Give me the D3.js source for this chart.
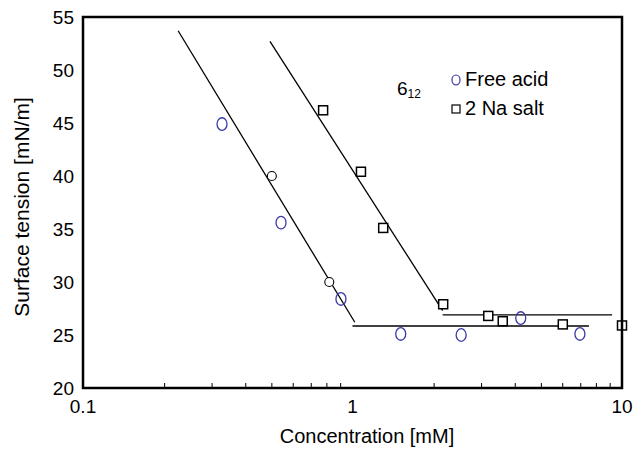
<!DOCTYPE html>
<html>
<head>
<meta charset="utf-8">
<script src="https://cdn.jsdelivr.net/npm/d3@7"></script>
<style>
  body { margin: 0; background: #fff; }
  text { font-family: "Liberation Sans", Arial, sans-serif; fill: #000; }
</style>
</head>
<body>
<svg id="chart" width="636" height="450"></svg>
<script>
// data (concentration in mM, surface tension in mN/m)
var acidConc = [0.328, 0.543, 0.906, 1.51, 2.53, 4.21, 6.98];
var acidST   = [44.9, 35.6, 28.4, 25.1, 25.0, 26.6, 25.1];
var openConc = [0.502, 0.82];
var openST   = [40.0, 30.0];
var saltConc = [0.778, 1.075, 1.30, 2.17, 3.19, 3.61, 6.03, 10];
var saltST   = [46.2, 40.4, 35.1, 27.9, 26.8, 26.3, 26.0, 25.9];
// fitted lines [c1, st1, c2, st2]
var fitLines = [
  [0.2254, 53.7, 1.02, 26.2],
  [1.0, 25.85, 7.54, 25.85],
  [0.494, 52.7, 2.16, 27.3],
  [2.16, 26.9, 9.19, 26.9]
];
var yTicks = [20, 25, 30, 35, 40, 45, 50, 55];
var xTicks = [0.1, 1, 10];

var margin = {top: 17, right: 14, bottom: 62, left: 83};
var width = 636, height = 450;

var svg = d3.select('#chart');

var x = d3.scaleLog()
  .domain([0.1, 10])
  .range([margin.left, width - margin.right]);
var y = d3.scaleLinear()
  .domain([20, 55])
  .range([height - margin.bottom, margin.top]);

// minor ticks on bottom axis, pointing inward
var minor = [];
[0.1, 1].forEach(function(d){
  for (var k = 2; k <= 9; k++) minor.push(d * k);
});
svg.append('g')
  .attr('transform', 'translate(0,' + (height - margin.bottom) + ')')
  .call(d3.axisTop(x).tickValues(minor).tickSize(5).tickFormat(''))
  .call(function(g){ g.select('.domain').remove(); })
  .selectAll('line').attr('stroke', '#000').attr('stroke-width', 1);

// tick labels
svg.selectAll('.xlab')
  .data(xTicks)
  .enter().append('text')
  .attr('class', 'xlab')
  .attr('x', function(d){ return x(d); })
  .attr('y', height - margin.bottom + 25)
  .attr('text-anchor', 'middle')
  .style('font-size', '19px')
  .text(function(d){ return d; });

svg.selectAll('.ylab')
  .data(yTicks)
  .enter().append('text')
  .attr('class', 'ylab')
  .attr('x', margin.left - 9)
  .attr('y', function(d){ return y(d); })
  .attr('dy', '0.35em')
  .attr('text-anchor', 'end')
  .style('font-size', '19px')
  .text(function(d){ return d; });

// fit lines
svg.selectAll('.fit')
  .data(fitLines)
  .enter().append('line')
  .attr('class', 'fit')
  .attr('x1', function(d){ return x(d[0]); })
  .attr('y1', function(d){ return y(d[1]); })
  .attr('x2', function(d){ return x(d[2]); })
  .attr('y2', function(d){ return y(d[3]); })
  .attr('stroke', '#000')
  .attr('stroke-width', 1.3);

// free acid (blue)
svg.selectAll('.acid')
  .data(acidConc)
  .enter().append('ellipse')
  .attr('cx', function(d){ return x(d); })
  .attr('cy', function(d, i){ return y(acidST[i]); })
  .attr('rx', 5)
  .attr('ry', 6.3)
  .attr('fill', 'none')
  .attr('stroke', '#3b3aa6')
  .attr('stroke-width', 1.3);

// black open circles
svg.selectAll('.open')
  .data(openConc)
  .enter().append('circle')
  .attr('cx', function(d){ return x(d); })
  .attr('cy', function(d, i){ return y(openST[i]); })
  .attr('r', 4.5)
  .attr('fill', '#fff')
  .attr('stroke', '#000')
  .attr('stroke-width', 1.1);

// 2 Na salt squares
svg.selectAll('.salt')
  .data(saltConc)
  .enter().append('rect')
  .attr('x', function(d){ return x(d) - 4.5; })
  .attr('y', function(d, i){ return y(saltST[i]) - 4.5; })
  .attr('width', 9)
  .attr('height', 9)
  .attr('fill', '#fff')
  .attr('stroke', '#000')
  .attr('stroke-width', 1.5);

// frame
svg.append('rect')
  .attr('x', margin.left)
  .attr('y', margin.top)
  .attr('width', width - margin.left - margin.right)
  .attr('height', height - margin.top - margin.bottom)
  .attr('fill', 'none')
  .attr('stroke', '#000')
  .attr('stroke-width', 2.5);

// annotation 6_12
var ann = svg.append('text').attr('x', 397).attr('y', 95).style('font-size', '19px');
ann.append('tspan').text('6');
ann.append('tspan').attr('dy', 3).style('font-size', '12px').text('12');

// legend
svg.append('ellipse').attr('cx', 456).attr('cy', 80).attr('rx', 4).attr('ry', 5)
  .attr('fill', 'none').attr('stroke', '#3b3aa6').attr('stroke-width', 1.2);
svg.append('text').attr('x', 465).attr('y', 86).style('font-size', '20px').text('Free acid');
svg.append('rect').attr('x', 452).attr('y', 105).attr('width', 8).attr('height', 8)
  .attr('fill', 'none').attr('stroke', '#000').attr('stroke-width', 1.2);
svg.append('text').attr('x', 465).attr('y', 115).style('font-size', '20px').text('2 Na salt');

// axis titles
svg.append('text')
  .attr('x', 367)
  .attr('y', 443)
  .attr('text-anchor', 'middle')
  .style('font-size', '20px')
  .text('Concentration [mM]');
svg.append('text')
  .attr('transform', 'translate(29,207) rotate(-90)')
  .attr('text-anchor', 'middle')
  .style('font-size', '21px')
  .text('Surface tension [mN/m]');
</script>
</body>
</html>
